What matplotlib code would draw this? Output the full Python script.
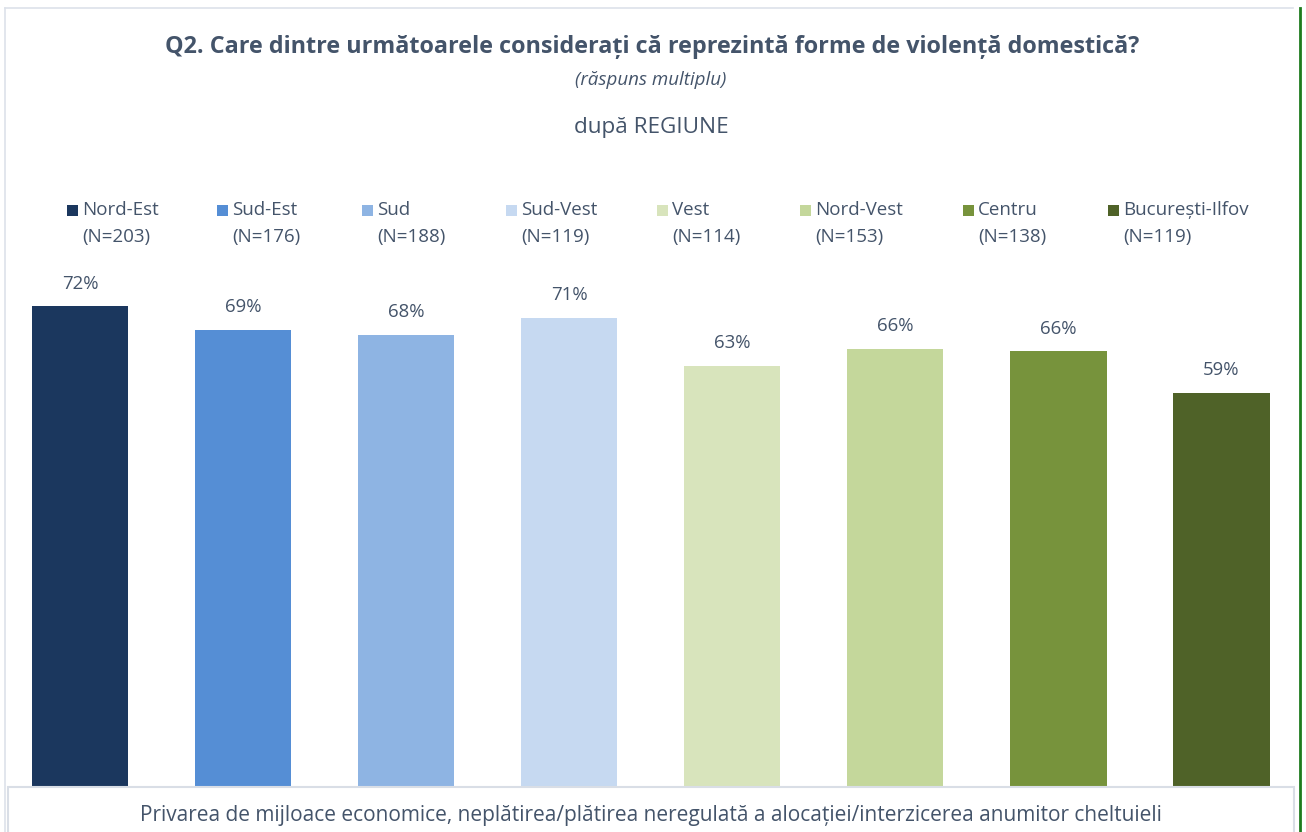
import matplotlib.pyplot as plt
from matplotlib.patches import Rectangle
from matplotlib.lines import Line2D

regions = ["Nord-Est", "Sud-Est", "Sud", "Sud-Vest", "Vest", "Nord-Vest", "Centru", "București-Ilfov"]
sample_n = [203, 176, 188, 119, 114, 153, 138, 119]
# bar heights (labels are rounded)
values = [72.4, 68.8, 68.1, 70.6, 63.4, 66.0, 65.6, 59.3]
colors = ["#1b375e", "#558ed5", "#8eb4e3", "#c6d9f1", "#d8e4bc", "#c4d79b", "#77933c", "#4f6228"]
category = "Privarea de mijloace economice, neplătirea/plătirea neregulată a alocației/interzicerea anumitor cheltuieli"

TXT = "#44546a"
plt.rcParams["font.family"] = ["Open Sans", "DejaVu Sans"]

W, H = 1306, 832
fig = plt.figure(figsize=(W / 100, H / 100), dpi=100)

# bars: baseline at y=785.7px, 100% at y=123.7px
step = 163.07
x0 = 80 / step
base, top = 785.7, 123.7
ax = fig.add_axes([0, (H - base) / H, 1, (base - top) / H])
ax.set_xlim(-x0, -x0 + W / step)
ax.set_ylim(0, 100)
ax.axis("off")
pos = range(len(values))
bars = ax.bar(pos, values, width=0.59, color=colors)
for b, v in zip(bars, values):
    ax.annotate(f"{v:.0f}%", (b.get_x() + b.get_width() / 2, v), xytext=(0, 10),
                textcoords="offset points", ha="center", va="bottom",
                fontsize=13.4, color=TXT)


def px(x, y):
    return x / W, 1 - y / H


# frame lines
fig.add_artist(Line2D([5 / W, 5 / W], [0, 1 - 8 / H], color="#dde2ea", lw=1.2))
fig.add_artist(Line2D([5 / W, 1293 / W], [1 - 8 / H, 1 - 8 / H], color="#dde2ea", lw=1.2))
fig.add_artist(Line2D([1300 / W, 1300 / W], [0, 1 - 8 / H], color="#1e7b1e", lw=2))
fig.add_artist(Rectangle(px(8, 840), (1294 - 8) / W, (840 - 786.5) / H, transform=fig.transFigure,
                         facecolor="white", edgecolor="#d9dee6", lw=1.5))

# titles
fig.text(652 / W, 1 - 47 / H, "Q2. Care dintre următoarele considerați că reprezintă forme de violență domestică?",
         ha="center", va="center", fontsize=16.8, fontweight="bold", color=TXT)
fig.text(651 / W, 1 - 80 / H, "(răspuns multiplu)", ha="center", va="center",
         fontsize=13.5, style="italic", color=TXT)
fig.text(651 / W, 1 - 127 / H, "după REGIUNE", ha="center", va="center", fontsize=16.2, color=TXT)

# legend
leg_x = [67, 217, 362, 506, 657, 800, 963, 1108]
for lx, name, n, c in zip(leg_x, regions, sample_n, colors):
    fig.add_artist(Rectangle(px(lx, 216), 11 / W, 11 / H, transform=fig.transFigure,
                             facecolor=c, edgecolor="none"))
    fig.text((lx + 15) / W, 1 - 210 / H, name, ha="left", va="center", fontsize=13.5, color=TXT)
    fig.text((lx + 15) / W, 1 - 237 / H, f"(N={n})", ha="left", va="center", fontsize=13.5, color=TXT)

fig.text(651 / W, 1 - 815 / H, category, ha="center", va="center", fontsize=15, color=TXT)

fig.savefig("out.png", dpi=100)
